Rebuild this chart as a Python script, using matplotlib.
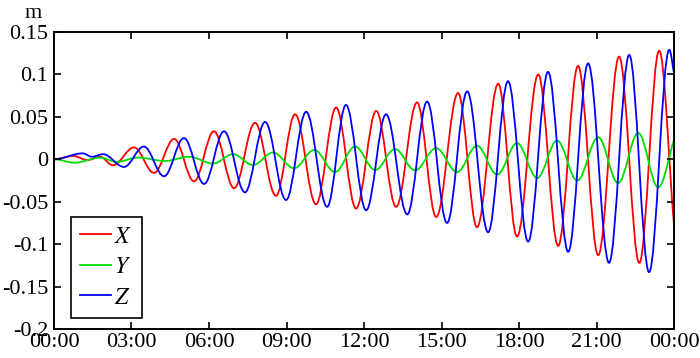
import matplotlib

matplotlib.use("Agg")
import matplotlib.pyplot as plt
from matplotlib.lines import Line2D
from matplotlib.patches import PathPatch
from matplotlib.path import Path

plt.rcParams["font.family"] = "serif"
plt.rcParams["font.serif"] = ["Liberation Serif", "DejaVu Serif"]
plt.rcParams["mathtext.fontset"] = "stix"

# extrema of each component: time (hours), offset (m)
# the last entry of every series is where the curve leaves the plot at 24 h
x_time = [0.0, 0.74, 1.30, 1.78, 2.28, 3.10, 3.87, 4.65, 5.42, 6.19, 6.97, 7.78,
          8.59, 9.33, 10.14, 10.92, 11.69, 12.47, 13.24, 14.05, 14.79, 15.64,
          16.37, 17.19, 17.92, 18.74, 19.51, 20.28, 21.06, 21.87, 22.65, 23.42, 24.0]
x_vals = [0.0, 0.004, -0.001, 0.003, -0.007, 0.014, -0.016, 0.024, -0.026, 0.033,
          -0.034, 0.043, -0.043, 0.053, -0.053, 0.061, -0.058, 0.057, -0.056, 0.067,
          -0.068, 0.078, -0.080, 0.089, -0.091, 0.100, -0.102, 0.110, -0.113, 0.121,
          -0.122, 0.128, -0.079]

y_time = [0.0, 0.81, 1.78, 2.44, 3.25, 4.30, 5.23, 6.16, 6.93, 7.70, 8.48, 9.29,
          10.07, 10.88, 11.65, 12.43, 13.20, 13.97, 14.79, 15.60, 16.37, 17.15,
          17.92, 18.70, 19.47, 20.25, 21.06, 21.83, 22.61, 23.38, 24.0]
y_vals = [0.0, -0.004, 0.002, -0.003, 0.002, -0.002, 0.003, -0.005, 0.006, -0.0067,
          0.008, -0.0106, 0.011, -0.015, 0.015, -0.0126, 0.012, -0.013, 0.013, -0.015,
          0.016, -0.018, 0.019, -0.022, 0.022, -0.025, 0.026, -0.028, 0.031, -0.033,
          0.023]

z_time = [0.0, 1.12, 1.47, 1.90, 2.71, 3.48, 4.26, 5.03, 5.81, 6.58, 7.39, 8.17,
          8.98, 9.76, 10.57, 11.30, 12.08, 12.85, 13.67, 14.44, 15.21, 15.99, 16.80,
          17.57, 18.35, 19.12, 19.90, 20.67, 21.48, 22.26, 23.03, 23.81, 24.0]
z_vals = [0.0, 0.007, 0.003, 0.006, -0.009, 0.015, -0.020, 0.025, -0.029, 0.033,
          -0.039, 0.044, -0.048, 0.056, -0.056, 0.064, -0.060, 0.053, -0.065, 0.068,
          -0.075, 0.080, -0.086, 0.092, -0.097, 0.103, -0.109, 0.113, -0.122, 0.123,
          -0.133, 0.129, 0.101]

labels = ["X", "Y", "Z"]
colors = ["#ff0000", "#00dd00", "#0000ff"]
y_ticks = [-0.2, -0.15, -0.1, -0.05, 0, 0.05, 0.1, 0.15]
y_tick_labels = ["-0.2", "-0.15", "-0.1", "-0.05", "0", "0.05", "0.1", "0.15"]
x_ticks = [0, 3, 6, 9, 12, 15, 18, 21, 24]
x_tick_labels = ["00:00", "03:00", "06:00", "09:00", "12:00", "15:00", "18:00", "21:00", "00:00"]

K = 0.3634  # control offset that makes a cubic Bezier close to a half cosine


def wave_path(times, vals):
    verts = [(times[0], vals[0])]
    codes = [Path.MOVETO]
    last = len(times) - 2
    for i in range(len(times) - 1):
        t0, t1, v0, v1 = times[i], times[i + 1], vals[i], vals[i + 1]
        dt = t1 - t0
        if i == last:
            # the curve is cut by the axis here, so keep some slope at the end
            c2 = (t1 - dt / 3, v1 + (v0 - v1) * 0.3)
        else:
            c2 = (t1 - K * dt, v1)
        verts += [(t0 + K * dt, v0), c2, (t1, v1)]
        codes += [Path.CURVE4] * 3
    return Path(verts, codes)


fig = plt.figure(figsize=(7, 3.58), dpi=100)
ax = fig.add_axes([0.0771, 0.081, 0.886, 0.8296])

series = [(x_time, x_vals), (y_time, y_vals), (z_time, z_vals)]
for (t, v), color in zip(series, colors):
    ax.add_patch(PathPatch(wave_path(t, v), facecolor="none", edgecolor=color, linewidth=1.3))

ax.set_xlim(0, 24)
ax.set_ylim(-0.2, 0.15)
ax.set_xticks(x_ticks)
ax.set_xticklabels(x_tick_labels)
ax.set_yticks(y_ticks)
ax.set_yticklabels(y_tick_labels)
ax.tick_params(direction="in", length=5, width=1.2, labelsize=16, top=True, right=True,
               colors="black")
ax.tick_params(axis="x", pad=3)
ax.tick_params(axis="y", pad=4)
for spine in ax.spines.values():
    spine.set_linewidth(1.4)

handles = [Line2D([], [], color=c, linewidth=1.3) for c in colors]
leg = ax.legend(handles, ["$\\mathit{%s}$" % s for s in labels], loc="lower left",
                bbox_to_anchor=(0.027, 0.037), fontsize=17, fancybox=False,
                edgecolor="black", framealpha=1, handlelength=1.3, handletextpad=0.15,
                labelspacing=0.38, borderpad=0.4, borderaxespad=0)
leg.get_frame().set_linewidth(1.2)

fig.text(33 / 700, 1 - 14 / 358, "m", ha="center", va="center", fontsize=16)

fig.savefig("out.png", dpi=100)
